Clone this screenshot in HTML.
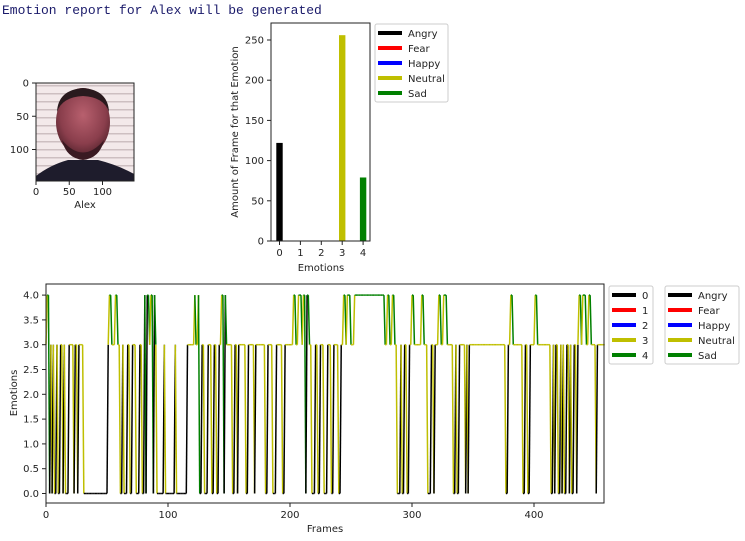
<!DOCTYPE html>
<html><head><meta charset="utf-8"><style>
body{margin:0;background:#fff;width:745px;height:536px;overflow:hidden}
svg{font-family:"DejaVu Sans","Liberation Sans",sans-serif;font-size:10px;fill:#222}
.mono{font-family:"Liberation Mono",monospace;font-size:13px;fill:#1a1a6a}
</style></head><body>
<svg id="root" width="745" height="536">
<text class="mono" x="2" y="14">Emotion report for Alex will be generated</text>
<g id="img">
  <defs>
    <pattern id="stripes" width="10" height="8" patternUnits="userSpaceOnUse">
      <rect width="10" height="8" fill="#f3e9ea"/><rect y="5" width="10" height="1.5" fill="#cdbfc1"/>
    </pattern>
    <radialGradient id="skin" cx="50%" cy="40%" r="60%"><stop offset="0" stop-color="#b8606e"/><stop offset="0.7" stop-color="#8a3e4c"/><stop offset="1" stop-color="#5a2630"/></radialGradient>
  </defs>
  <rect x="36" y="83" width="98" height="98" fill="url(#stripes)"/>
  <ellipse cx="83" cy="122" rx="27" ry="34" fill="url(#skin)"/>
  <path d="M57 112 Q58 90 83 88 Q108 90 109 112 Q104 97 83 96 Q62 97 57 112Z" fill="#2a1a1e"/>
  <path d="M62 140 Q83 165 104 140 Q100 158 83 160 Q66 158 62 140Z" fill="#3a1a22"/>
  <path d="M36 181 L36 176 Q50 165 68 160 L98 160 Q118 165 134 174 L134 181 Z" fill="#1e1c2c"/>
  <rect x="36" y="83" width="98" height="98" fill="none" stroke="#222" stroke-width="1"/>
</g>
<g id="bar"></g>
<g id="line"></g>
</svg>
<script>
const NS='http://www.w3.org/2000/svg';
function mk(p,t,a,txt){const e=document.createElementNS(NS,t);for(const k in a)e.setAttribute(k,a[k]);if(txt!==undefined)e.textContent=txt;p.appendChild(e);return e;}
const colors=['#000000','#ff0000','#0000ff','#bfbf00','#008000'];
const names=['Angry','Fear','Happy','Neutral','Sad'];

const imgTicks=[0,50,100];
const img=document.getElementById('img');
imgTicks.forEach(v=>{
  const y=83+v*0.665, x=36+v*0.665;
  mk(img,'line',{x1:32,x2:36,y1:y,y2:y,stroke:'#222'});
  let t=mk(img,'text',{x:29,y:y+3.5,'text-anchor':'end'},v);
  
  
  mk(img,'line',{x1:x,x2:x,y1:181,y2:185,stroke:'#222'});
  t=mk(img,'text',{x:x,y:195,'text-anchor':'middle'},v);
  
  
});
let ti=mk(img,'text',{x:85,y:208,'text-anchor':'middle'},'Alex');



const barCats=[0,1,2,3,4];
const barVals=[122,0,0,256,79];
const barTicks=[0,50,100,150,200,250];
const bar=document.getElementById('bar');
const bx=c=>279.5+c*20.9, by=v=>241-v*0.804;
barCats.forEach((c,i)=>{
  const r=mk(bar,'rect',{x:bx(c)-3.2,y:by(barVals[i]),width:6.4,height:barVals[i]*0.804,fill:colors[i]});
  
  
  mk(bar,'line',{x1:bx(c),x2:bx(c),y1:241,y2:245,stroke:'#222'});
  const t=mk(bar,'text',{x:bx(c),y:256,'text-anchor':'middle'},c);
  
  
});
barTicks.forEach(v=>{
  mk(bar,'line',{x1:267,x2:271,y1:by(v),y2:by(v),stroke:'#222'});
  const t=mk(bar,'text',{x:264,y:by(v)+3.5,'text-anchor':'end'},v);
  
  
});
mk(bar,'rect',{x:271,y:23,width:99,height:218,fill:'none',stroke:'#222'});
ti=mk(bar,'text',{x:321,y:271,'text-anchor':'middle'},'Emotions');


ti=mk(bar,'text',{x:238,y:132,'text-anchor':'middle',transform:'rotate(-90 238 132)'},'Amount of Frame for that Emotion');



function legend(parent,x,y,w,labels,nm){
  const g=mk(parent,'g',{});
  
  
  mk(g,'rect',{x:x,y:y,width:w,height:78,rx:2,fill:'#fff',stroke:'#ccc'});
  labels.forEach((l,i)=>{
    const yy=y+9+i*15;
    mk(g,'line',{x1:x+3,x2:x+27,y1:yy,y2:yy,stroke:colors[i],'stroke-width':4});
    const t=mk(g,'text',{x:x+33,y:yy+4},l);
    
    
  });
}
legend(bar,375,24,73,names,'bar-legend');

const runs=[[3,1],[4,2],[0,1],[3,1],[0,1],[3,1],[0,2],[3,1],[0,2],[3,2],[0,1],[3,1],[0,3],[3,4],[0,1],[3,2],[0,1],[3,4],[0,20],
[3,1],[4,2],[3,3],[4,2],[3,2],
[0,2],[3,1],[0,3],[3,2],[0,2],[3,3],[0,3],[3,2],[0,2],
[4,1],[0,1],[4,2],[3,1],[4,2],[0,1],[4,1],[3,1],
[0,6],[3,1],[0,8],[3,1],[0,9],
[3,6],[4,1],[3,2],[4,1],[0,2],[3,2],[0,3],[3,3],[0,2],[3,2],[0,2],[3,2],[4,2],[0,1],[4,1],[3,1],
[3,4],[0,2],[3,2],[0,1],[3,6],[0,2],[3,5],[0,1],[3,8],[0,2],[3,4],[0,3],[3,5],[0,2],[3,7],
[4,2],[3,2],[4,3],[3,1],[4,2],[0,1],[4,2],[3,2],
[0,3],[3,2],[0,2],[3,3],[0,3],[3,3],[0,2],[3,4],[0,2],[3,2],[4,2],[3,1],[4,3],[3,3],
[4,25],
[3,2],[4,2],[3,2],[4,2],[3,2],[0,3],[3,1],[0,2],[3,2],[0,2],[3,2],[4,2],[3,6],[4,2],[3,3],[0,3],[3,2],[0,1],[3,3],[4,2],[3,2],[4,3],[3,1],
[3,4],[0,2],[3,1],[0,2],[3,5],[0,1],[3,1],[0,1],[3,30],[0,2],
[3,2],[4,2],[3,8],[0,2],[3,2],[0,2],[3,4],[4,2],[3,11],
[0,2],[3,1],[0,1],[3,2],[0,2],[3,1],[0,1],[3,1],[0,2],[3,2],[0,1],[3,1],[0,2],[3,2],[0,1],[3,1],[4,2],[3,1],[4,3],[3,2],[4,2],[3,4],[0,1],[3,3],[3,4]];
const xTicks=[0,100,200,300,400];
const yTicks=[0,0.5,1,1.5,2,2.5,3,3.5,4];
const legNums=['0','1','2','3','4'];
const line=document.getElementById('line');
const lx=f=>46+f*1.22, ly=v=>493.5-v*49.6;
const vals=[];runs.forEach(r=>{for(let k=0;k<r[1];k++)vals.push(r[0]);});
const lg=mk(line,'g',{});


for(let i=0;i<vals.length-1;i++){
  const s=mk(lg,'line',{x1:lx(i),y1:ly(vals[i]),x2:lx(i+1),y2:ly(vals[i+1]),stroke:colors[vals[i]],'stroke-width':1.5});
  
  
}
xTicks.forEach(v=>{
  mk(line,'line',{x1:lx(v),x2:lx(v),y1:503,y2:507,stroke:'#222'});
  const t=mk(line,'text',{x:lx(v),y:518,'text-anchor':'middle'},v);
  
  
});
yTicks.forEach(v=>{
  mk(line,'line',{x1:42,x2:46,y1:ly(v),y2:ly(v),stroke:'#222'});
  const t=mk(line,'text',{x:39,y:ly(v)+3.5,'text-anchor':'end'},v.toFixed(1));
  
  
});
mk(line,'rect',{x:46,y:284,width:558,height:219,fill:'none',stroke:'#222'});
ti=mk(line,'text',{x:325,y:532,'text-anchor':'middle'},'Frames');


ti=mk(line,'text',{x:17,y:393,'text-anchor':'middle',transform:'rotate(-90 17 393)'},'Emotions');


legend(line,609,286,44,legNums,'number-legend');
legend(line,665,286,74,names,'emotion-legend');
</script>
</body></html>
